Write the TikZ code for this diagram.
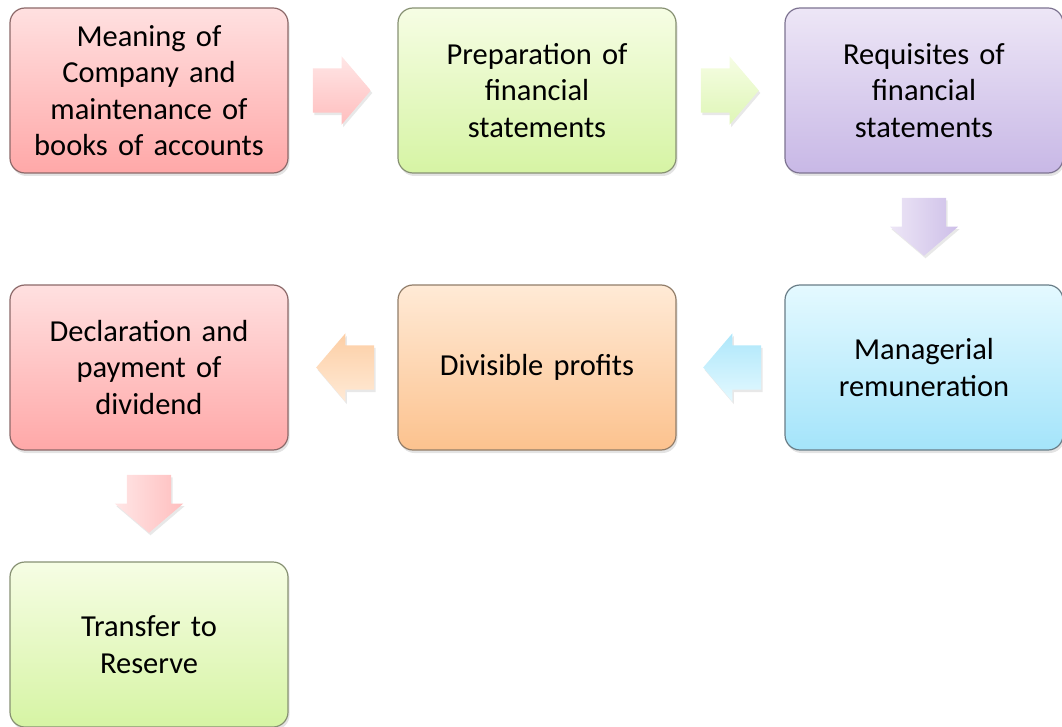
\documentclass[tikz,border=0pt]{standalone}
\usepackage{fontspec}
\setmainfont{Carlito}
\usetikzlibrary{shapes.arrows,shadows,calc}

\definecolor{pinkT}{RGB}{255,224,224}
\definecolor{pinkB}{RGB}{255,168,168}
\definecolor{pinkD}{RGB}{140,105,105}
\definecolor{greenT}{RGB}{246,253,228}
\definecolor{greenB}{RGB}{214,244,164}
\definecolor{greenD}{RGB}{135,145,115}
\definecolor{purpleT}{RGB}{237,230,246}
\definecolor{purpleB}{RGB}{200,184,230}
\definecolor{purpleD}{RGB}{125,115,145}
\definecolor{blueT}{RGB}{228,249,255}
\definecolor{blueB}{RGB}{164,228,250}
\definecolor{blueD}{RGB}{105,125,135}
\definecolor{peachT}{RGB}{255,234,214}
\definecolor{peachB}{RGB}{252,194,142}
\definecolor{peachD}{RGB}{145,125,105}

\begin{document}
\begin{tikzpicture}[x=1pt,y=-1pt]
\tikzset{topic/.style={draw, shape=rectangle, rounded corners=15pt,
            minimum width=278pt, minimum height=165pt, inner sep=4pt,
            text width=266pt, align=center, line width=1.2pt,
            font=\fontsize{30.5}{36.5}\selectfont,
            drop shadow={shadow xshift=1.5pt, shadow yshift=-3pt, opacity=.22}},
         pinkbox/.style={topic, draw=pinkD, top color=pinkT, bottom color=pinkB},
         greenbox/.style={topic, draw=greenD, top color=greenT, bottom color=greenB},
         purplebox/.style={topic, draw=purpleD, top color=purpleT, bottom color=purpleB},
         bluebox/.style={topic, draw=blueD, top color=blueT, bottom color=blueB},
         peachbox/.style={topic, draw=peachD, top color=peachT, bottom color=peachB},
         flow/.style={single arrow, anchor=tail, inner xsep=0pt, inner ysep=22pt,
            minimum height=58pt, single arrow head extend=12pt,
            single arrow tip angle=99,
            drop shadow={shadow xshift=1.5pt, shadow yshift=-2.5pt, opacity=.18}}}
\useasboundingbox (0,0) rectangle (1062,727);

\node[pinkbox] (meaning) at (149,90.5){Meaning of\\Company and\\maintenance of\\books of accounts};
\node[greenbox] (prep) at (537,90.5){Preparation of\\financial\\statements};
\node[purplebox] (requ) at (924,90.5){Requisites of\\financial\\statements};
\node[bluebox] (manag) at (924,367.5){Managerial\\remuneration};
\node[peachbox] (divis) at (537,367.5){Divisible profits};
\node[pinkbox] (decl) at (149,367.5){Declaration and\\payment of\\dividend};
\node[greenbox] (trans) at (149,644.5){Transfer to\\Reserve};

% arrows between the steps
\node[flow, top color=pinkT!80, bottom color=pinkB!75] (a1)
    at ($(meaning.east)!24pt!(prep.west)$){};
\node[flow, top color=greenT, bottom color=greenB!80] (a2)
    at ($(prep.east)!24pt!(requ.west)$){};
\node[flow, rotate=-90, left color=purpleT, right color=purpleB!90] (a3)
    at ($(requ.south)!24pt!(manag.north)$){};
\node[flow, rotate=180, top color=blueB!90, bottom color=blueT] (a4)
    at ($(manag.west)!23pt!(divis.east)$){};
\node[flow, rotate=180, top color=peachB!80, bottom color=peachT] (a5)
    at ($(divis.west)!23pt!(decl.east)$){};
\node[flow, rotate=-90, left color=pinkT!80, right color=pinkB!75] (a6)
    at ($(decl.south)!24pt!(trans.north)$){};
\end{tikzpicture}
\end{document}
